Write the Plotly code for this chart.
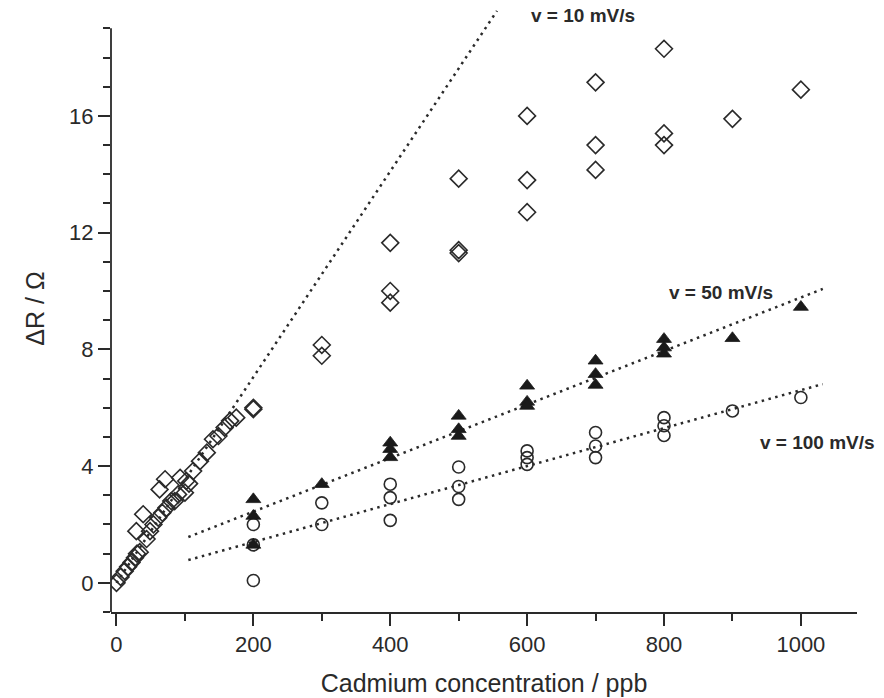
import plotly.graph_objects as go

# ---- data ----
# v = 10 mV/s (open diamonds)
x10 = [0, 6, 12, 17, 22, 27, 30, 34, 29, 39, 44, 49, 54, 61, 63, 71, 67, 73, 80, 85, 90, 93,
       100, 102, 106, 112, 122, 132, 141, 149, 158, 166, 175,
       200, 200, 300, 300, 400, 400, 400, 500, 500, 500, 600, 600, 600,
       700, 700, 700, 800, 800, 800, 900, 1000]
y10 = [0.0, 0.2, 0.4, 0.55, 0.7, 0.86, 1.0, 1.05, 1.77, 2.35, 1.5, 1.77, 2.0, 2.23, 3.2, 3.55, 2.4, 2.57, 2.8, 2.8, 3.03, 3.6,
       3.09, 3.49, 3.4, 3.83, 4.17, 4.46, 4.92, 5.03, 5.32, 5.55, 5.66,
       6.0, 5.95, 8.15, 7.78, 11.65, 10.0, 9.6, 13.85, 11.4, 11.3, 16.0, 13.8, 12.7,
       17.15, 15.0, 14.15, 18.3, 15.4, 15.0, 15.9, 16.9]

# v = 50 mV/s (filled triangles)
x50 = [200, 200, 200, 300, 400, 400, 400, 500, 500, 500, 600, 600, 600,
       700, 700, 700, 800, 800, 800, 900, 1000]
y50 = [2.86, 2.29, 1.3, 3.38, 4.8, 4.58, 4.3, 5.72, 5.26, 5.03, 6.75, 6.2, 6.06,
       7.61, 7.15, 6.78, 8.35, 8.06, 7.85, 8.38, 9.45]

# v = 100 mV/s (open circles)
x100 = [200, 200, 200, 300, 300, 400, 400, 400, 500, 500, 500, 600, 600, 600,
        700, 700, 700, 800, 800, 800, 900, 1000]
y100 = [2.0, 1.3, 0.08, 2.74, 2.0, 3.38, 2.92, 2.14, 3.97, 3.3, 2.86, 4.52, 4.29, 4.06,
        5.15, 4.69, 4.29, 5.66, 5.38, 5.05, 5.89, 6.35]

# dotted guide lines
fit10_x = [0, 556]
fit10_y = [0, 19.6]
fit50_x = [105, 1032]
fit50_y = [1.57, 10.07]
fit100_x = [105, 1032]
fit100_y = [0.78, 6.81]

labels = ["v = 10 mV/s", "v = 50 mV/s", "v = 100 mV/s"]
label_x = [682, 883, 1025]
label_y = [19.44, 9.95, 4.8]

x_major = [0, 200, 400, 600, 800, 1000]
x_minor = [100, 300, 500, 700, 900]
y_major = [0, 4, 8, 12, 16]
y_minor = [-1, 1, 2, 3, 5, 6, 7, 9, 10, 11, 13, 14, 15, 17, 18, 19]

INK = "#2a2a2a"
FONT = "Liberation Sans, Arial, sans-serif"

fig = go.Figure()

dot = "2.5px,4.5px"
for fx, fy in [(fit10_x, fit10_y), (fit50_x, fit50_y), (fit100_x, fit100_y)]:
    fig.add_trace(go.Scatter(x=fx, y=fy, mode="lines",
                             line=dict(color=INK, width=2.5, dash=dot),
                             hoverinfo="skip", showlegend=False))

fig.add_trace(go.Scatter(x=x10, y=y10, mode="markers", showlegend=False,
                         marker=dict(symbol="diamond-open", size=13, color=INK,
                                     line=dict(width=1.6, color=INK))))
fig.add_trace(go.Scatter(x=x100, y=y100, mode="markers", showlegend=False,
                         marker=dict(symbol="circle-open", size=12, color=INK,
                                     line=dict(width=1.6, color=INK))))
fig.add_trace(go.Scatter(x=x50, y=y50, mode="markers", showlegend=False,
                         marker=dict(symbol="triangle-up", size=13, color="#1a1a1a",
                                     line=dict(width=0.8, color="#1a1a1a"))))

for t, lx, ly in zip(labels, label_x, label_y):
    fig.add_annotation(x=lx, y=ly, text="<b>" + t + "</b>", showarrow=False,
                       xref="x", yref="y",
                       font=dict(family=FONT, size=19, color=INK))

# y-axis line ending at 19 (the plot area extends higher so the 10 mV/s line can pass it)
fig.add_shape(type="line", xref="paper", yref="y", x0=0, x1=0, y0=-1, y1=19,
              line=dict(color=INK, width=1.8))

fig.update_layout(
    width=884, height=698,
    margin=dict(l=111, r=27, t=5, b=86),
    paper_bgcolor="white", plot_bgcolor="white",
    font=dict(family=FONT, color=INK),
    xaxis=dict(range=[-8, 1082], showgrid=False, zeroline=False,
               showline=True, linecolor=INK, linewidth=1.8,
               tickmode="array", tickvals=x_major, ticks="outside",
               ticklen=12, tickwidth=1.5, tickcolor=INK,
               tickfont=dict(size=22, family=FONT, color=INK),
               minor=dict(tickmode="array", tickvals=x_minor, ticks="outside",
                          ticklen=7, tickwidth=1.5, tickcolor=INK, showgrid=False),
               title=dict(text="Cadmium concentration / ppb",
                          font=dict(size=25, family=FONT, color=INK), standoff=18)),
    yaxis=dict(range=[-1, 19.8], showgrid=False, zeroline=False,
               showline=False,
               tickmode="array", tickvals=y_major, ticks="outside",
               ticklen=12, tickwidth=1.5, tickcolor=INK,
               tickfont=dict(size=22, family=FONT, color=INK),
               minor=dict(tickmode="array", tickvals=y_minor, ticks="outside",
                          ticklen=7, tickwidth=1.5, tickcolor=INK, showgrid=False),
               title=dict(text="ΔR / Ω", font=dict(size=25, family=FONT, color=INK),
                          standoff=17)),
)

fig.write_html("out.html")
